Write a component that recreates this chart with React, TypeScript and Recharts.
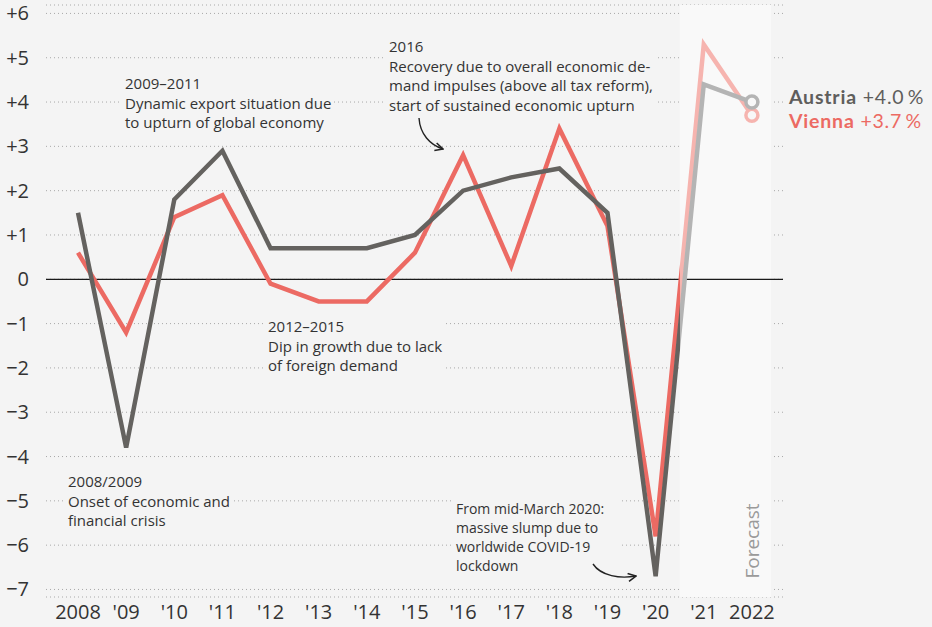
import React from 'react';
import { LineChart, Line, XAxis, YAxis, CartesianGrid, ReferenceLine, ReferenceArea } from 'recharts';

const years = ['2008', "'09", "'10", "'11", "'12", "'13", "'14", "'15", "'16", "'17", "'18", "'19", "'20", "'21", '2022'];
const austria = [1.5, -3.8, 1.8, 2.9, 0.7, 0.7, 0.7, 1.0, 2.0, 2.3, 2.5, 1.5, -6.7, 4.4, 4.0];
const vienna = [0.6, -1.2, 1.4, 1.9, -0.1, -0.5, -0.5, 0.6, 2.8, 0.3, 3.4, 1.2, -5.8, 5.3, 3.7];
const yTicks = [-7, -6, -5, -4, -3, -2, -1, 0, 1, 2, 3, 4, 5, 6];
const forecastFrom = 12.5; // between '20 and '21
const forecastTo = 14.4;

const chartData = years.map((year, i) => ({ i, year, austria: austria[i], vienna: vienna[i] }));

const FONT = '"Open Sans", sans-serif';
const BG = '#f4f4f4';

// colours: full for actuals, light for forecast
const AUS = '#64625f';
const AUS_LIGHT = '#b4b4b4';
const VIE = '#ec6a63';
const VIE_LIGHT = '#f6b4af';

function formatY(v: number) {
  if (v > 0) return '+' + v;
  if (v < 0) return '\u2212' + Math.abs(v);
  return '0';
}

function YTick(props: any) {
  const { y, payload } = props;
  return (
    <text x={29} y={y} dy={7} textAnchor="end" fill="#333" fontSize={20} fontFamily={FONT}>
      {formatY(payload.value)}
    </text>
  );
}

function XTick(props: any) {
  const { x, y, payload } = props;
  return (
    <text x={x} y={y} dy={14} textAnchor="middle" fill="#333" fontSize={20} fontFamily={FONT}>
      {years[payload.value]}
    </text>
  );
}

function endDot(color: string) {
  return (props: any) => {
    const { cx, cy, index } = props;
    if (index !== years.length - 1) return <g key={'d' + index} />;
    return <circle key={'d' + index} cx={cx} cy={cy} r={6} fill="#f8f8f8" stroke={color} strokeWidth={3.5} />;
  };
}

// gradient offset where the forecast starts (line bbox spans first..last point)
const gradOffset = forecastFrom / (years.length - 1);

function Annotation({ x, y, w, lines, size = 15, lh = 19.5 }: { x: number; y: number; w: number; lines: string[]; size?: number; lh?: number }) {
  return (
    <g>
      {/* knock out the grid behind the text */}
      <rect x={x - 4} y={y - size - 2} width={w} height={lh * (lines.length - 1) + size + 8} fill={BG} />
      <text x={x} y={y} fill="#333" fontSize={size} fontFamily={FONT}>
        {lines.map((l, k) => (
          <tspan key={k} x={x} dy={k === 0 ? 0 : lh}>{l}</tspan>
        ))}
      </text>
    </g>
  );
}

export default function App() {
  return (
    <div style={{ position: 'absolute', left: 0, top: 0, width: 932, height: 627, background: BG, overflow: 'hidden' }}>
      <LineChart width={932} height={627} data={chartData} margin={{ top: 5, right: 149, left: 0, bottom: 0 }}>
        <defs>
          <linearGradient id="ausGrad" x1="0" y1="0" x2="1" y2="0">
            <stop offset={gradOffset} stopColor={AUS} />
            <stop offset={gradOffset} stopColor={AUS_LIGHT} />
          </linearGradient>
          <linearGradient id="vieGrad" x1="0" y1="0" x2="1" y2="0">
            <stop offset={gradOffset} stopColor={VIE} />
            <stop offset={gradOffset} stopColor={VIE_LIGHT} />
          </linearGradient>
        </defs>
        <ReferenceArea x1={forecastFrom} x2={forecastTo} fill="#f9f9f9" fillOpacity={1} stroke="none" ifOverflow="visible" />
        <CartesianGrid vertical={false} stroke="#a8a8a8" strokeDasharray="1 3" />
        <XAxis
          dataKey="i"
          type="number"
          domain={[-0.665, 14.646]}
          ticks={chartData.map(d => d.i)}
          interval={0}
          tick={<XTick />}
          tickLine={false}
          axisLine={false}
          height={30}
          allowDataOverflow
        />
        <YAxis
          type="number"
          domain={[-7.17, 6.19]}
          ticks={yTicks}
          interval={0}
          tick={<YTick />}
          tickLine={false}
          axisLine={false}
          width={46}
          allowDataOverflow
        />
        <ReferenceLine y={0} stroke="#1a1a1a" strokeWidth={1.2} />
        <Line
          dataKey="vienna"
          stroke="url(#vieGrad)"
          strokeWidth={4.5}
          strokeLinejoin="miter"
          dot={endDot(VIE_LIGHT)}
          activeDot={false}
          isAnimationActive={false}
        />
        <Line
          dataKey="austria"
          stroke="url(#ausGrad)"
          strokeWidth={4.5}
          strokeLinejoin="miter"
          dot={endDot(AUS_LIGHT)}
          activeDot={false}
          isAnimationActive={false}
        />
      </LineChart>

      {/* annotations, legend, arrows */}
      <svg width={932} height={627} style={{ position: 'absolute', left: 0, top: 0, pointerEvents: 'none' }}>
        <defs>
          <marker id="arrow" viewBox="0 0 10 10" refX="9" refY="5" markerWidth="7" markerHeight="7" orient="auto">
            <path d="M1,1 L9,5 L1,9" fill="none" stroke="#222" strokeWidth={1.6} />
          </marker>
        </defs>
        <Annotation x={125} y={89} w={212} lines={['2009–2011', 'Dynamic export situation due', 'to upturn of global economy']} />
        <Annotation x={389} y={52} w={272} lines={['2016', 'Recovery due to overall economic de-', 'mand impulses (above all tax reform),', 'start of sustained economic upturn']} />
        <Annotation x={268} y={332} w={182} lines={['2012–2015', 'Dip in growth due to lack', 'of foreign demand']} />
        <Annotation x={68} y={487} w={168} lines={['2008/2009', 'Onset of economic and', 'financial crisis']} />
        <Annotation x={456} y={514} w={170} size={14} lh={19} lines={['From mid-March 2020:', 'massive slump due to', 'worldwide COVID-19', 'lockdown']} />
        <path d="M419,118 C420,134 430,145 443,149" fill="none" stroke="#222" strokeWidth={1.4} markerEnd="url(#arrow)" />
        <path d="M593,564 C601,576 620,579 636,576" fill="none" stroke="#222" strokeWidth={1.4} markerEnd="url(#arrow)" />
        <text x={759} y={541} transform="rotate(-90 759 541)" textAnchor="middle" fill="#9a9a9a" fontSize={19} fontFamily={FONT}>
          Forecast
        </text>
        <text x={789} y={104} fontSize={19.5} letterSpacing={0.8} fontFamily="Lato, sans-serif" fill="#5f5e5c">
          <tspan fontWeight={700}>Austria</tspan>
          <tspan> +4.0{'\u2009'}%</tspan>
        </text>
        <text x={789} y={128} fontSize={19.5} letterSpacing={0.8} fontFamily="Lato, sans-serif" fill={VIE}>
          <tspan fontWeight={700}>Vienna</tspan>
          <tspan> +3.7{'\u2009'}%</tspan>
        </text>
      </svg>
    </div>
  );
}
